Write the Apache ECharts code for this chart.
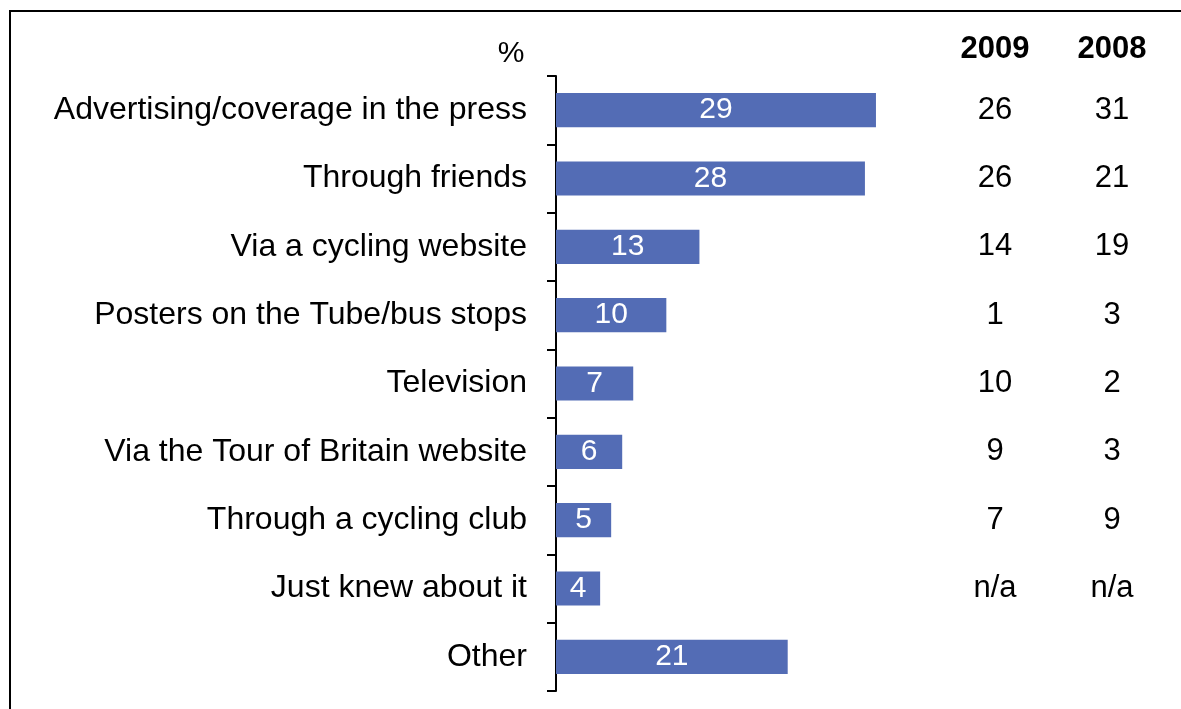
<!DOCTYPE html>
<html>
<head>
<meta charset="utf-8">
<title>How people heard about the event</title>
<script src="https://cdn.jsdelivr.net/npm/echarts@6/dist/echarts.min.js"></script>
<style>
  html, body { margin: 0; padding: 0; background: #ffffff; }
  #chart { width: 1181px; height: 709px; }
</style>
</head>
<body>
<div id="chart"></div>
<script>
// Sources of awareness, current survey (%), with the two previous years alongside
const categories = [
  'Advertising/coverage in the press',
  'Through friends',
  'Via a cycling website',
  'Posters on the Tube/bus stops',
  'Television',
  'Via the Tour of Britain website',
  'Through a cycling club',
  'Just knew about it',
  'Other'
];
const currentValues = [29, 28, 13, 10, 7, 6, 5, 4, 21];
const values2009 = ['26', '26', '14', '1', '10', '9', '7', 'n/a', ''];
const values2008 = ['31', '21', '19', '3', '2', '3', '9', 'n/a', ''];
const columnHeaders = ['2009', '2008'];
const unitLabel = '%';

const FONT = '"Liberation Sans", Arial, Helvetica, sans-serif';
const BAR_COLOR = '#536CB5';

const chart = echarts.init(document.getElementById('chart'), null, { renderer: 'canvas' });

// Right-hand comparison columns are drawn as label-only category axes
function tableAxis(data, margin) {
  return {
    type: 'category',
    data: data,
    inverse: true,
    position: 'right',
    axisLine: { show: false },
    axisTick: { show: false },
    splitLine: { show: false },
    axisLabel: {
      margin: margin,
      align: 'center',
      color: '#000000',
      fontFamily: FONT,
      fontSize: 31,
      padding: [2, 0, 0, 0]
    }
  };
}

const option = {
  backgroundColor: '#ffffff',
  animation: false,
  grid: { left: 556, top: 76, width: 331, height: 615, containLabel: false },
  xAxis: {
    type: 'value',
    min: 0,
    max: 30,
    show: false
  },
  yAxis: [
    {
      type: 'category',
      data: categories,
      inverse: true,
      axisLine: { show: true, lineStyle: { color: '#000000', width: 2 } },
      axisTick: { show: true, length: 9, inside: false, lineStyle: { color: '#000000', width: 2 } },
      axisLabel: {
        margin: 29,
        color: '#000000',
        fontFamily: FONT,
        fontSize: 32,
        padding: [6, 0, 0, 0]
      },
      splitLine: { show: false }
    },
    tableAxis(values2009, 108),
    tableAxis(values2008, 225)
  ],
  series: [
    {
      type: 'bar',
      data: currentValues,
      yAxisIndex: 0,
      barCategoryGap: '50%',
      itemStyle: { color: BAR_COLOR },
      label: {
        show: true,
        position: 'inside',
        color: '#ffffff',
        fontFamily: FONT,
        fontSize: 30,
        padding: [6, 0, 0, 0]
      }
    }
  ],
  graphic: [
    {
      type: 'rect',
      shape: { x: 10, y: 11, width: 1400, height: 900 },
      style: { fill: null, stroke: '#000000', lineWidth: 2 },
      silent: true
    },
    {
      type: 'text',
      x: 511, y: 54,
      style: { text: unitLabel, fontFamily: FONT, fontSize: 30, fill: '#000000', textAlign: 'center', textVerticalAlign: 'middle' }
    },
    {
      type: 'text',
      x: 995, y: 49,
      style: { text: columnHeaders[0], fontFamily: FONT, fontSize: 31, fontWeight: 'bold', fill: '#000000', textAlign: 'center', textVerticalAlign: 'middle' }
    },
    {
      type: 'text',
      x: 1112, y: 49,
      style: { text: columnHeaders[1], fontFamily: FONT, fontSize: 31, fontWeight: 'bold', fill: '#000000', textAlign: 'center', textVerticalAlign: 'middle' }
    }
  ]
};

chart.setOption(option);
</script>
</body>
</html>
